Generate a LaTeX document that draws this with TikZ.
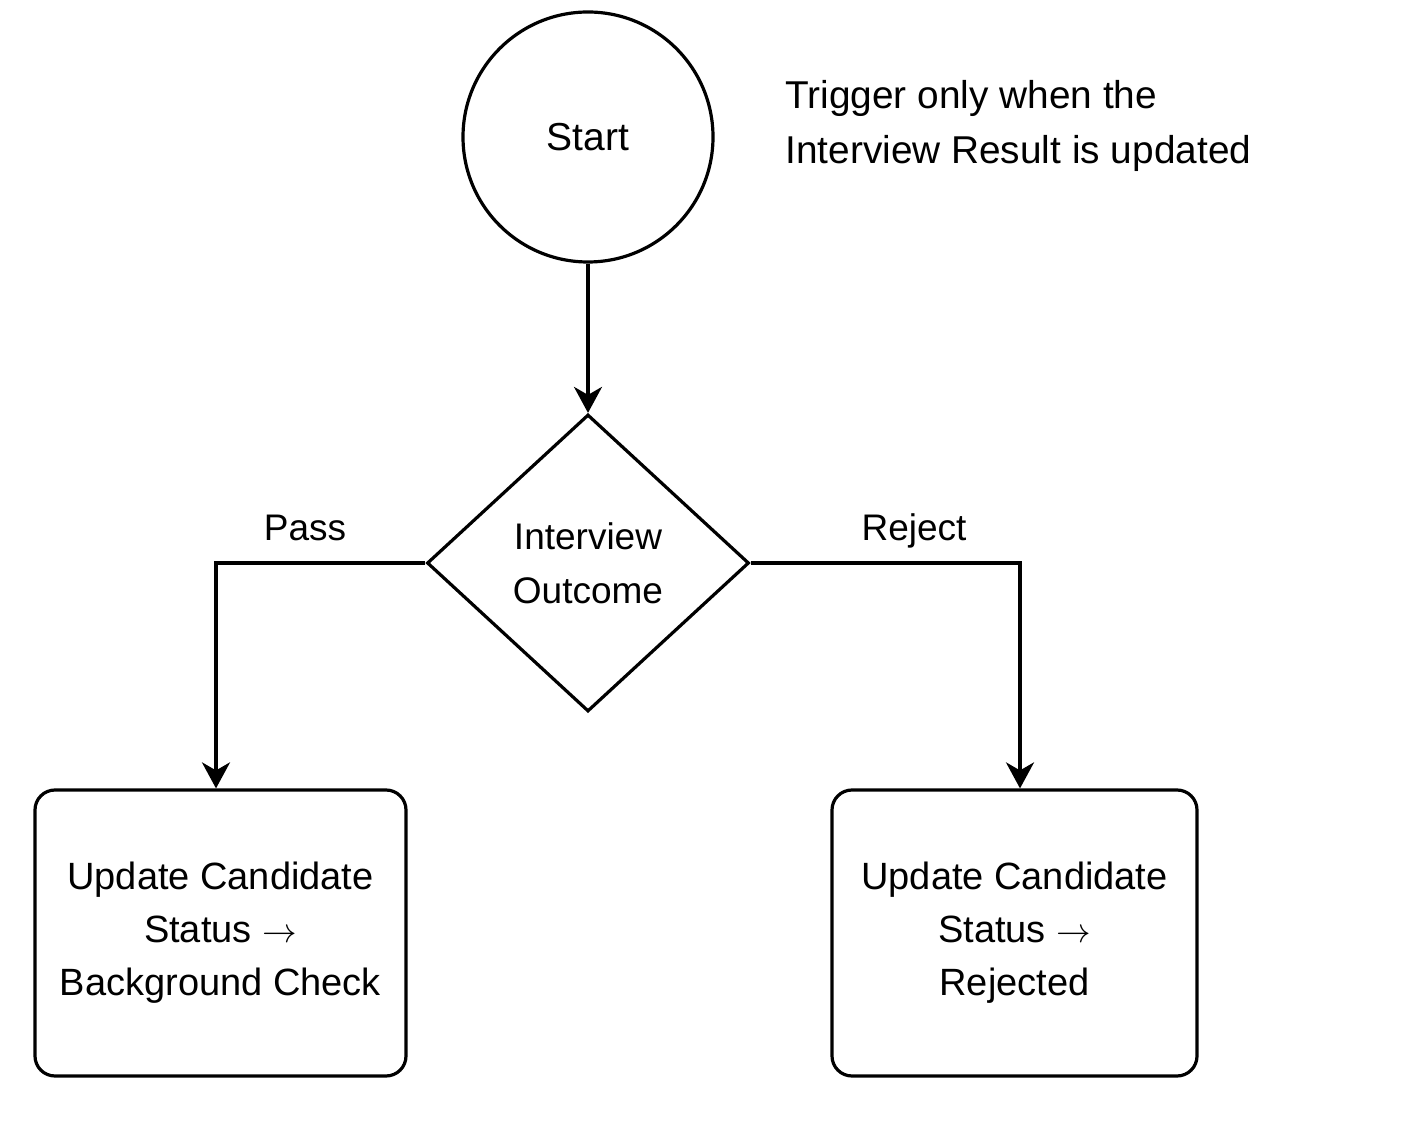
\documentclass[tikz,border=0pt]{standalone}
\usepackage{fontspec}
\setmainfont{Liberation Sans}
\usetikzlibrary{arrows.meta,shapes.geometric}
\tikzset{
  shapeline/.style={draw=black,line width=1.6pt},
  conn/.style={draw=black,line width=1.6pt,-{Stealth[length=13pt,width=14pt,inset=4pt]}},
  boxnode/.style={shapeline,rounded corners=10pt,minimum width=185.5pt,minimum height=143pt,align=center,font=\fontsize{19pt}{26.5pt}\selectfont},
  lbl/.style={font=\fontsize{18.5pt}{22pt}\selectfont,inner sep=0pt},
}
\newcommand{\myarr}{\ $\rightarrow$}
\begin{document}
\begin{tikzpicture}[x=0.5pt,y=-0.5pt]
\useasboundingbox (0,0) rectangle (1402,1122);
\node[shapeline,circle,minimum size=125pt,inner sep=0pt,font=\fontsize{19.5pt}{22pt}\selectfont] (start) at (588,137) {Start};
\node[shapeline,diamond,minimum width=161pt,minimum height=148.5pt,inner sep=0pt,align=center,font=\fontsize{18.5pt}{27pt}\selectfont] (dec) at (588,563) {Interview\\Outcome};
\node[boxnode] (pass) at (220.5,933) {Update Candidate\\Status\myarr\\Background Check};
\node[boxnode,minimum width=182.5pt] (rej) at (1014.5,933) {Update Candidate\\Status\myarr\\Rejected};
\coordinate (pc) at (216,563);
\coordinate (rc) at (1020,563);
\draw[conn] (start.south) -- (dec.north);
\draw[conn] (dec.west) -- (pc) -- (pc |- pass.north);
\draw[conn] (dec.east) -- (rc) -- (rc |- rej.north);
\node[lbl,anchor=base] (plbl) at (305,541) {Pass};
\node[lbl,anchor=base] (rlbl) at (914,541) {Reject};
\node[lbl,anchor=north west,align=left,font=\fontsize{19.4pt}{27.5pt}\selectfont] (note) at (785,80) {Trigger only when the\\Interview Result is updated};
\end{tikzpicture}
\end{document}
